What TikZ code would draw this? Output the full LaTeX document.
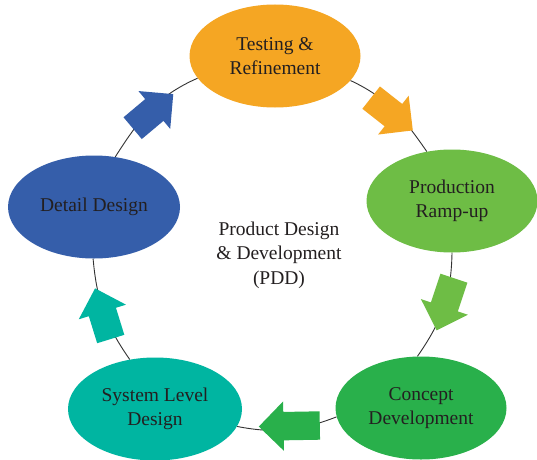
\documentclass[tikz,border=0pt]{standalone}
\usepackage{fontspec}
\setmainfont{Liberation Serif}
\usetikzlibrary{shapes.geometric,shapes.arrows}
\pgfdeclarelayer{background}
\pgfsetlayers{background,main}

\definecolor{cTest}{RGB}{245,166,35}
\definecolor{cProd}{RGB}{110,189,69}
\definecolor{cConcept}{RGB}{41,176,75}
\definecolor{cSystem}{RGB}{0,181,161}
\definecolor{cDetail}{RGB}{53,94,170}
\definecolor{cText}{RGB}{35,31,32}
\definecolor{cLine}{RGB}{50,50,50}

\tikzset{
  label font/.style={font=\fontsize{19.5}{24.5}\selectfont, text=cText, align=center},
  stage/.style={ellipse, fill=#1, draw=none, inner sep=0pt,
    minimum width=171pt, minimum height=103pt, label font},
  flow/.style={single arrow, fill=#1, draw=none, inner xsep=0pt, inner ysep=14pt,
    minimum width=49pt, single arrow head extend=10.5pt,
    minimum height=53pt, anchor=tail},
  link/.style={draw=cLine, line width=0.9pt},
}

\begin{document}
\begin{tikzpicture}[x=1pt,y=1pt]
\begin{pgfonlayer}{background}
  \fill[white] (0,0) rectangle (537,459);
\end{pgfonlayer}
\useasboundingbox (0,0) rectangle (537,459);

% the five stages of the cycle
\node[stage=cTest]    (test)    at (275,403) {Testing \&\\Refinement};
\node[stage=cProd]    (prod)    at (452,258) {Production\\Ramp-up};
\node[stage=cConcept] (concept) at (421,51)  {Concept\\Development};
\node[stage=cSystem, minimum width=174pt] (system) at (155,50) {System Level\\Design};
\node[stage=cDetail, minimum width=172pt] (detail) at (94,252) {Detail Design};

% title in the middle
\node[label font] (pdd) at (279,204) {Product Design\\\& Development\\(PDD)};

% thin ring joining the stages
\begin{pgfonlayer}{background}
  \draw[link] (test.-18.7)    to[out=-25,  in=124.7] (prod.117.9);
  \draw[link] (prod.-90)      to[out=-91,  in=55]    (concept.94.6);
  \draw[link] (concept.186.6) to[out=201,  in=-11]   (system.-12.2);
  \draw[link] (system.117.4)  to[out=125,  in=-85]   (detail.-91);
  \draw[link] (detail.67.6)   to[out=57.5, in=203.7] (test.196.7);
\end{pgfonlayer}

% block arrows showing the direction of flow
\node[flow=cTest,    rotate=-38.2]                     (f1) at (371,361.5) {};
\node[flow=cProd,    rotate=-108.4, minimum height=55pt] (f2) at (454,181)   {};
\node[flow=cConcept, rotate=181,   minimum height=61pt] (f3) at (320,33.5)  {};
\node[flow=cSystem,  rotate=107.2]                     (f4) at (110.8,119.8) {};
\node[flow=cDetail,  rotate=40]                        (f5) at (132.5,330.7) {};
\end{tikzpicture}
\end{document}
